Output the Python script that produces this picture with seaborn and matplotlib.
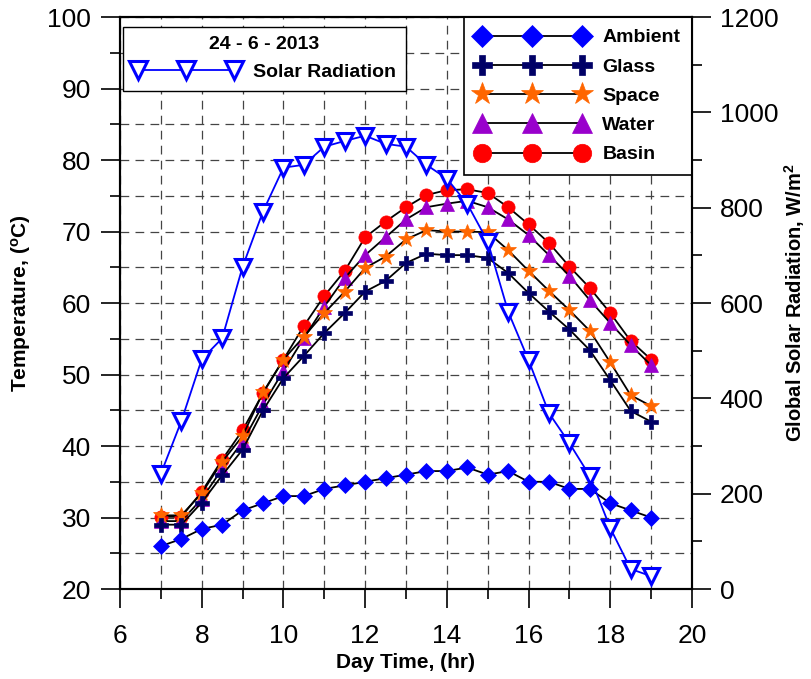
import numpy as np
import pandas as pd
import matplotlib
matplotlib.use('Agg')
import matplotlib.pyplot as plt
import seaborn as sns
from matplotlib.ticker import MultipleLocator

hours = [7.0, 7.5, 8.0, 8.5, 9.0, 9.5, 10.0, 10.5, 11.0, 11.5, 12.0, 12.5, 13.0,
         13.5, 14.0, 14.5, 15.0, 15.5, 16.0, 16.5, 17.0, 17.5, 18.0, 18.5, 19.0]
ambient = [26.0, 27.0, 28.4, 29.0, 31.0, 32.0, 33.0, 33.0, 34.0, 34.5, 35.0, 35.5, 36.0,
           36.5, 36.5, 37.0, 36.0, 36.5, 35.0, 35.0, 34.0, 34.0, 32.0, 31.0, 30.0]
glass = [29.0, 29.0, 32.1, 35.9, 39.5, 45.0, 49.5, 52.6, 55.8, 58.6, 61.6, 63.1, 65.6,
         66.9, 66.7, 66.7, 66.3, 64.2, 61.4, 58.8, 56.3, 53.4, 49.2, 44.9, 43.4]
space = [30.3, 30.3, 33.4, 37.8, 41.4, 47.5, 52.1, 55.3, 58.6, 61.6, 64.9, 66.5, 68.9,
         70.2, 70.0, 70.0, 69.9, 67.4, 64.5, 61.7, 59.0, 56.1, 51.7, 47.1, 45.6]
water = [29.5, 29.5, 32.6, 36.8, 40.6, 45.8, 50.5, 55.1, 59.5, 63.5, 66.7, 69.2, 71.7,
         73.4, 73.9, 74.3, 73.4, 71.7, 69.5, 66.7, 63.8, 60.4, 57.2, 54.1, 51.3]
basin = [30.1, 30.1, 33.6, 38.1, 42.2, 47.4, 52.1, 56.8, 61.0, 64.5, 69.2, 71.4, 73.4,
         75.1, 75.8, 75.9, 75.4, 73.4, 71.0, 68.4, 65.1, 62.1, 58.6, 54.7, 52.1]
solar = [242, 352, 482, 526, 676, 792, 884, 890, 928, 940, 951, 934, 928,
         890, 861, 808, 729, 582, 480, 369, 306, 237, 128, 42, 27]

legend_title = "24 - 6 - 2013"

sns.set_style('ticks')
plt.rcParams['font.family'] = ['Liberation Sans', 'DejaVu Sans']
plt.rcParams['mathtext.fontset'] = 'custom'
plt.rcParams['mathtext.rm'] = 'Liberation Sans:bold'
plt.rcParams['mathtext.bf'] = 'Liberation Sans:bold'
plt.rcParams['mathtext.default'] = 'bf'
for k in ['text.color', 'axes.labelcolor', 'xtick.color', 'ytick.color', 'axes.edgecolor']:
    plt.rcParams[k] = 'black'

df = pd.DataFrame({'hour': hours, 'Ambient': ambient, 'Glass': glass, 'Space': space,
                   'Water': water, 'Basin': basin, 'Solar': solar})

fig = plt.figure(figsize=(8.12, 6.79), dpi=100)
ax = fig.add_axes([0.1478, 0.1325, 0.7044, 0.8424])

styles = {
    'Basin': dict(marker='o', ms=9.5, mfc='#FF0000', mec='#FF0000'),
    'Water': dict(marker='^', ms=10, mfc='#9900CC', mec='#9900CC'),
    'Space': dict(marker='*', ms=12, mfc='#FF6600', mec='#FF6600'),
    'Glass': dict(marker='P', ms=10.5, mfc='#000066', mec='#000066'),
    'Ambient': dict(marker='D', ms=8, mfc='#0000FF', mec='#0000FF'),
}
handles = {}
for name in ['Basin', 'Water', 'Space', 'Glass', 'Ambient']:
    sns.lineplot(data=df, x='hour', y=name, ax=ax, color='black', lw=1.3,
                 mew=0.5, legend=False, **styles[name])
    handles[name] = ax.lines[-1]

ax.set_xlim(6, 20)
ax.set_ylim(20, 100)
ax.xaxis.set_major_locator(MultipleLocator(2))
ax.xaxis.set_minor_locator(MultipleLocator(1))
ax.yaxis.set_major_locator(MultipleLocator(10))
ax.yaxis.set_minor_locator(MultipleLocator(5))
ax.grid(True, which='both', linestyle=(0, (7, 5)), color='#444444', lw=0.9)
ax.tick_params(which='major', direction='out', length=14, width=1.2, labelsize=19)
ax.tick_params(axis='x', which='major', pad=11.5)
ax.tick_params(axis='y', which='major', pad=7)
ax.tick_params(which='minor', direction='out', length=7, width=1.2)
for s in ax.spines.values():
    s.set_linewidth(1.5)
ax.set_xlabel('Day Time, (hr)', fontsize=15, fontweight='bold', labelpad=3)
ax.set_ylabel(r'Temperature, ($^{o}$C)', fontsize=15, fontweight='bold', labelpad=10)

ax2 = ax.twinx()
sns.lineplot(data=df, x='hour', y='Solar', ax=ax2, color='#0000FF', lw=1.3,
             marker='v', ms=11, mfc='white', mec='#0000FF', mew=2.2, legend=False)
solar_line = ax2.lines[-1]
ax2.set_ylim(0, 1200)
ax2.yaxis.set_major_locator(MultipleLocator(200))
ax2.yaxis.set_minor_locator(MultipleLocator(100))
ax2.tick_params(which='major', direction='out', length=14, width=1.2, labelsize=19, pad=6)
ax2.tick_params(which='minor', direction='out', length=7, width=1.2)
ax2.grid(False)
for s in ax2.spines.values():
    s.set_linewidth(1.5)
ax2.set_ylabel(r'Global Solar Radiation, W/m$^{2}$', fontsize=14.5, fontweight='bold', labelpad=3)

order = ['Ambient', 'Glass', 'Space', 'Water', 'Basin']
leg1 = ax.legend([handles[n] for n in order], order, loc='upper right',
                 bbox_to_anchor=(1.0, 1.0), borderaxespad=0, numpoints=3,
                 handlelength=5.75, handletextpad=0.75, labelspacing=0.6,
                 borderpad=0.6, markerscale=1.4, fancybox=False, framealpha=1,
                 edgecolor='black', prop={'weight': 'bold', 'size': 14})
leg1.get_frame().set_linewidth(1.2)
leg1.set_zorder(10)

leg2 = ax2.legend([solar_line], ['Solar Radiation'], loc='upper left',
                  bbox_to_anchor=(0.005, 0.983), borderaxespad=0, numpoints=3,
                  handlelength=5.5, handletextpad=0.7, borderpad=0.5,
                  markerscale=1.2, fancybox=False, framealpha=1, edgecolor='black',
                  title=legend_title, prop={'weight': 'bold', 'size': 14},
                  title_fontproperties={'weight': 'bold', 'size': 14})
leg2.get_frame().set_linewidth(1.0)

fig.savefig('out.png', dpi=100)
